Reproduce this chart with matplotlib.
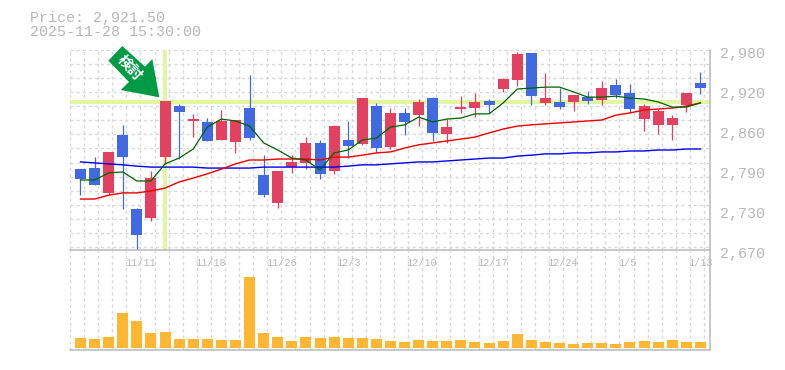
import numpy as np
import matplotlib
matplotlib.use("Agg")
import matplotlib.pyplot as plt
from matplotlib.patches import Polygon
from matplotlib.transforms import Affine2D

open_price = [2795.5, 2797, 2758.5, 2848, 2733.5, 2719.5, 2814, 2893, 2870, 2868.5, 2840.5, 2837.5, 2890, 2786, 2743,
              2798.5, 2805, 2836, 2792.5, 2840.5, 2834.5, 2893, 2829.5, 2882.5, 2879, 2905.5, 2850, 2888.5, 2890, 2901,
              2919.5, 2933.5, 2975.5, 2898, 2899.5, 2899.5, 2907, 2902.5, 2926, 2913.5, 2873, 2864, 2864, 2895, 2929]
close_price = [2780, 2771, 2822, 2814, 2693, 2781.5, 2901, 2884, 2873, 2839, 2870, 2871.5, 2843.5, 2755, 2792.5,
               2806.5, 2836, 2788, 2862, 2831, 2905.5, 2828, 2882.5, 2868.5, 2899.5, 2851.5, 2860.5, 2891.5, 2899.5, 2895,
               2935, 2974, 2908.5, 2905.5, 2891.5, 2910, 2901, 2921, 2910, 2888.5, 2893, 2885.5, 2874.5, 2913.5, 2921]
high_price = [2795.5, 2814, 2822, 2864, 2735, 2792.5, 2901, 2896.5, 2881, 2874.5, 2887, 2871.5, 2941, 2817, 2792.5,
              2817, 2845, 2840.5, 2864, 2870, 2905.5, 2898, 2890, 2890, 2904, 2907, 2873, 2908.5, 2913.5, 2904,
              2936.5, 2977, 2975.5, 2944.5, 2921, 2910, 2916.5, 2932, 2935, 2927.5, 2896.5, 2888.5, 2879, 2913.5, 2946]
low_price = [2755, 2771, 2755, 2733.5, 2670, 2715, 2803.5, 2811, 2845, 2839, 2840.5, 2820.5, 2840.5, 2752, 2735,
             2789.5, 2795.5, 2780, 2788, 2812.5, 2833, 2822, 2826.5, 2848, 2862, 2839, 2836, 2882.5, 2876, 2882.5,
             2915, 2924, 2895, 2895, 2888.5, 2885.5, 2896.5, 2895, 2905.5, 2882.5, 2854.5, 2850, 2840.5, 2884, 2912]
ma_short = [2778.5, 2778.5, 2789.5, 2791, 2777, 2777, 2803.5, 2812.5, 2826.5, 2860.5, 2873, 2870, 2862, 2836, 2825,
            2812.5, 2809.5, 2794, 2820.5, 2825, 2840.5, 2843.5, 2860.5, 2864, 2876, 2868.5, 2873, 2874.5, 2881, 2881,
            2898, 2919.5, 2921, 2922.5, 2922.5, 2915, 2907, 2907, 2908.5, 2905.5, 2904, 2899.5, 2891.5, 2891.5, 2898]
ma_mid = [2749, 2749, 2755, 2758.5, 2758.5, 2761.5, 2766, 2775.5, 2781.5, 2788, 2795.5, 2803.5, 2809.5, 2809.5, 2811,
          2811, 2811, 2809.5, 2814, 2814, 2817, 2820.5, 2822, 2828, 2833, 2836, 2839, 2842, 2845, 2851.5,
          2857.5, 2862, 2864, 2865.5, 2867, 2868.5, 2870, 2871.5, 2879, 2882.5, 2887, 2888.5, 2890, 2893, 2898]
ma_long = [2806.5, 2805, 2803.5, 2802, 2800, 2798.5, 2798.5, 2798.5, 2798.5, 2797, 2797, 2797, 2797, 2798.5, 2798.5,
           2798.5, 2798.5, 2798.5, 2798.5, 2800, 2802, 2802, 2803.5, 2805, 2806.5, 2806.5, 2808, 2809.5, 2811, 2812.5,
           2812.5, 2815.5, 2817, 2819, 2819, 2820.5, 2820.5, 2822, 2822, 2823.5, 2823.5, 2825, 2825, 2826.5, 2826.5]
volume = [200, 180, 220, 700, 540, 300, 320, 180, 180, 180, 160, 160, 1420, 300, 220,
          140, 220, 200, 220, 200, 200, 180, 140, 120, 160, 140, 140, 160, 120, 100,
          140, 280, 160, 120, 100, 80, 100, 100, 80, 120, 140, 120, 160, 120, 120]

date_index = [4, 9, 14, 19, 24, 29, 34, 39, 44]
date_labels = ["11/11", "11/18", "11/26", "12/3", "12/10", "12/17", "12/24", "1/5", "1/13"]
price_ticks = [2980, 2918, 2856, 2794, 2732, 2670]
price_labels = ["2,980", "2,920", "2,860", "2,790", "2,730", "2,670"]
mark_index = 6
mark_price = 2900

W, H = 785, 370
TEXT_COLOR = "#b8b8b8"
GRID_COLOR = "#d8d8d8"
BAND_COLOR = "#e2f5a2"
UP_COLOR = "#e2415f"
DOWN_COLOR = "#4169e1"
MONO = "Liberation Mono"
XMIN, XMAX = -0.745, 44.68


def add_grid(ax):
    for k in range(46):
        ax.axvline(XMIN + k * 1.0, color=GRID_COLOR, lw=1.0, ls=(0, (2.2, 2.2)), zorder=0)


x = np.arange(len(open_price))
up = np.array(close_price) >= np.array(open_price)
colors = [UP_COLOR if u else DOWN_COLOR for u in up]

fig = plt.figure(figsize=(W / 100, H / 100), dpi=100)
ax = fig.add_axes([70 / W, (H - 250) / H, 640 / W, 200 / H])
vol = fig.add_axes([70 / W, (H - 350) / H, 640 / W, 100 / H])

# price panel
add_grid(ax)
for k in range(15):
    ax.axhline(2980 - k * 21.8, color=GRID_COLOR, lw=1.0, ls=(0, (2.2, 2.2)), zorder=0)
ax.axhline(mark_price, color=BAND_COLOR, lw=2.9, zorder=1)
ax.axvline(mark_index, ymin=0.005, color=BAND_COLOR, lw=2.9, zorder=1)
ax.vlines(x, low_price, high_price, colors=colors, lw=0.9, zorder=2)
bottoms = np.minimum(open_price, close_price)
heights = np.abs(np.array(close_price) - np.array(open_price))
ax.bar(x, heights, bottom=bottoms, width=0.78, color=colors, lw=0, zorder=3)
ax.plot(x, ma_long, color="#0000ee", lw=1.0, zorder=4)
ax.plot(x, ma_mid, color="#ee0000", lw=1.0, zorder=4)
ax.plot(x, ma_short, color="#006400", lw=0.9, zorder=4)
ax.set_xlim(XMIN, XMAX)
ax.set_ylim(2670, 2980)
ax.set_yticks([])
ax.set_xticks([])

for tick, label in zip(price_ticks, price_labels):
    ax.annotate(label, (1, tick), xycoords=("axes fraction", "data"), xytext=(10, -4),
                textcoords="offset pixels", family=MONO, fontsize=10.8, color=TEXT_COLOR,
                va="center", ha="left", annotation_clip=False)

# volume panel
add_grid(vol)
vol.bar(x, volume, width=0.78, color="#ffb733", lw=0, zorder=3)
vol.set_xlim(XMIN, XMAX)
vol.set_ylim(-40, 1960)
vol.set_yticks([])
vol.set_xticks([])
for i, label in zip(date_index, date_labels):
    vol.annotate(label, (i, 1), xycoords=("data", "axes fraction"), xytext=(-12, -13),
                 textcoords="offset pixels", family=MONO, fontsize=7.4, color=TEXT_COLOR,
                 va="center", ha="left", annotation_clip=False, zorder=5)

for a in (ax, vol):
    a.patch.set_alpha(0)
    a.spines["top"].set_visible(False)
    a.spines["left"].set_visible(False)
    for s in ("right", "bottom"):
        a.spines[s].set_color(TEXT_COLOR)
        a.spines[s].set_linewidth(1.1)

# header
fig.text(30 / W, 1 - 18 / H, "Price: 2,921.50", family=MONO, fontsize=10.8, color=TEXT_COLOR, va="center")
fig.text(30 / W, 1 - 32 / H, "2025-11-28 15:30:00", family=MONO, fontsize=10.8, color=TEXT_COLOR, va="center")

# signal arrow, in image pixels
to_fig = Affine2D().scale(1 / W, -1 / H).translate(0, 1) + fig.transFigure
arrow = Polygon([(122.3, 46), (108.3, 60.7), (129, 82), (120.7, 90), (159.3, 97.3), (152.3, 59), (145, 66.7)],
                closed=True, color="#009a44", lw=0, transform=to_fig, zorder=6)
fig.add_artist(arrow)
fig.text(130.2 / W, 1 - 67.5 / H, "検討", family=["Noto Sans CJK JP", "DejaVu Sans"], fontsize=10.5,
         fontweight="bold", color="white", rotation=-47, ha="center", va="center", rotation_mode="anchor", zorder=7)

fig.savefig("out.png", dpi=100)
